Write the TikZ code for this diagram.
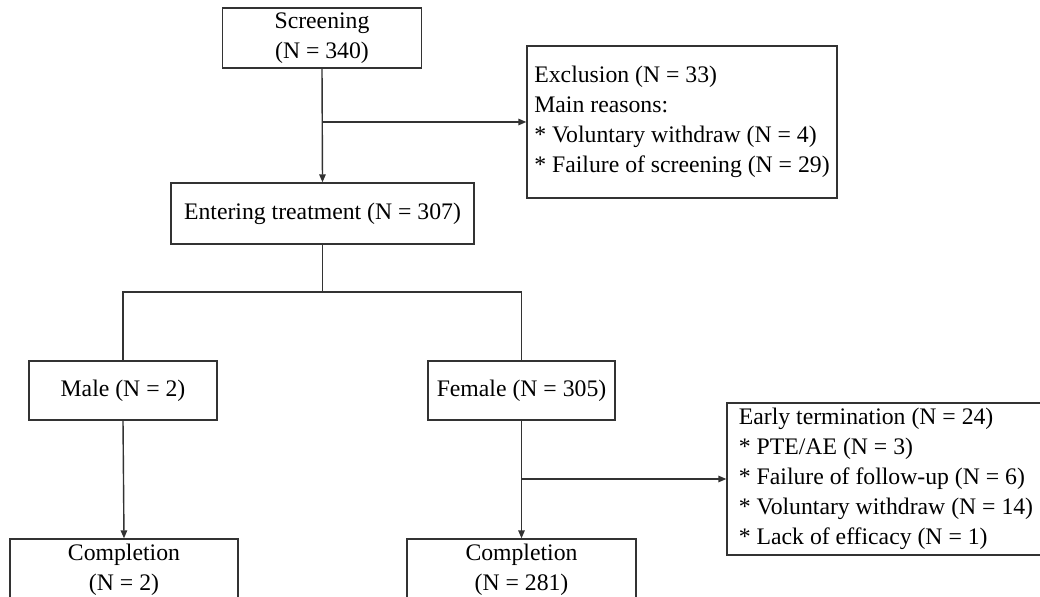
\documentclass[tikz,border=0pt]{standalone}
\usepackage{fontspec}
\setmainfont{Liberation Serif}
\usetikzlibrary{arrows.meta}
\begin{document}
\begin{tikzpicture}[x=0.02cm,y=-0.02cm,
   box/.style={draw=black!80,line width=0.8pt,rectangle,align=center,inner sep=0pt,
     font=\fontsize{13.5}{17}\selectfont},
   listbox/.style={box,align=left},
   link/.style={draw=black!80,line width=0.8pt},
   arr/.style={link,-{Triangle[length=1.6mm,width=1.3mm]}}]
   \useasboundingbox (0,0) rectangle (1040,597);
   \clip (0,0) rectangle (1040,597);
   \node[box,minimum width=3.98cm,minimum height=1.2cm] (scr) at (322,38) {Screening\\(N = 340)};
   \node[listbox,minimum width=6.2cm,minimum height=3.04cm] (excl) at (682,122)
      {Exclusion (N = 33)\\Main reasons:\\{*} Voluntary withdraw (N = 4)\\{*} Failure of screening (N = 29)};
   \node[box,minimum width=6.06cm,minimum height=1.22cm] (ent) at (322.5,213.5) {Entering treatment (N = 307)};
   \coordinate (split) at (322.5,292);
   \node[box,minimum width=3.76cm,minimum height=1.18cm] (male) at (123,390.5) {Male (N = 2)};
   \node[box,minimum width=3.74cm,minimum height=1.18cm] (fem) at (521.5,390.5) {Female (N = 305)};
   \node[listbox,minimum width=6.36cm,minimum height=3.04cm] (early) at (886,479)
      {Early termination (N = 24)\\{*} PTE/AE (N = 3)\\{*} Failure of follow-up (N = 6)\\{*} Voluntary withdraw (N = 14)\\{*} Lack of efficacy (N = 1)};
   \node[box,minimum width=4.56cm,minimum height=1.24cm] (cm) at (124,570) {Completion\\(N = 2)};
   \node[box,minimum width=4.58cm,minimum height=1.24cm] (cf) at (521.5,570) {Completion\\(N = 281)};
   % screening to treatment, exclusions to the side
   \draw[arr] (scr.south) -- (ent.north);
   \draw[arr] (scr.south |- excl.west) -- (excl.west);
   \draw[link] (ent.south) -- (split);
   \draw[link] (male.north) |- (split) -| (fem.north);
   % follow-up
   \draw[arr] (male.south) -- (cm.north);
   \draw[arr] (fem.south) -- (cf.north);
   \draw[arr] (fem.south |- early.west) -- (early.west);
\end{tikzpicture}
\end{document}
